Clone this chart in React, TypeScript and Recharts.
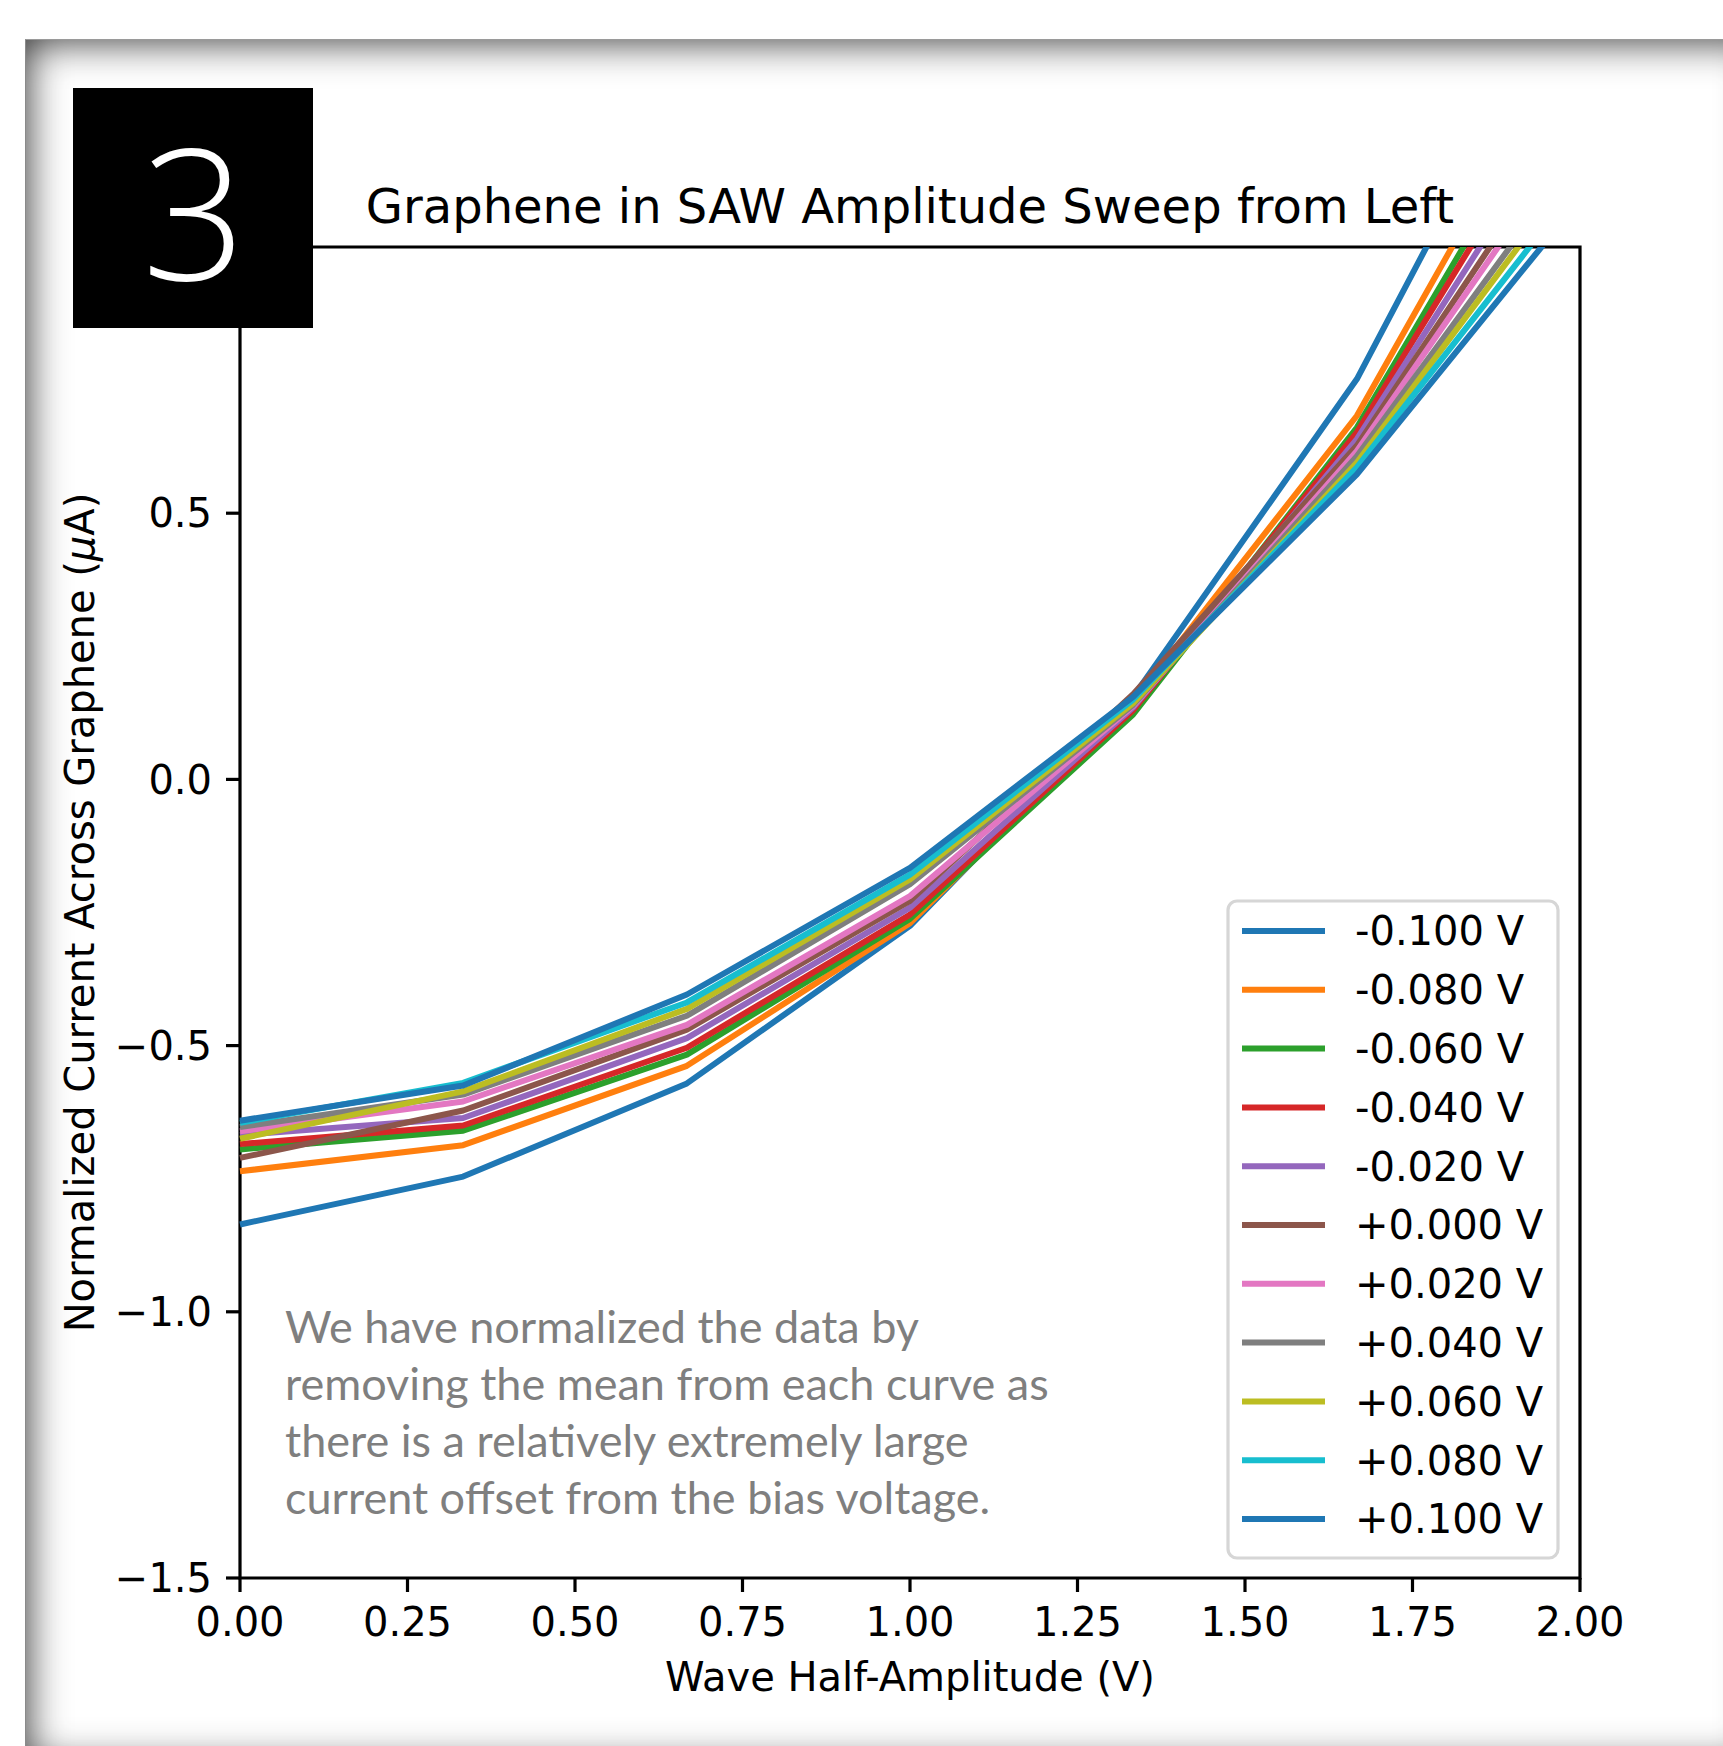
import React from 'react';
import { LineChart, Line, XAxis, YAxis, ReferenceArea } from 'recharts';

// Wave half-amplitude (V)
const xValues = [0, 0.333, 0.667, 1.0, 1.333, 1.667, 2.0];

// Bias voltage labels
const biasLabels = [
  '-0.100 V', '-0.080 V', '-0.060 V', '-0.040 V', '-0.020 V',
  '+0.000 V', '+0.020 V', '+0.040 V', '+0.060 V', '+0.080 V', '+0.100 V',
];

const seriesColors = [
  '#1f77b4', '#ff7f0e', '#2ca02c', '#d62728', '#9467bd',
  '#8c564b', '#e377c2', '#7f7f7f', '#bcbd22', '#17becf', '#1f77b4',
];

// Normalized current (µA) per bias voltage
const biasM100 = [-0.836, -0.746, -0.571, -0.275, 0.155, 0.752, 1.547];
const biasM080 = [-0.736, -0.687, -0.538, -0.270, 0.145, 0.683, 1.426];
const biasM060 = [-0.695, -0.660, -0.517, -0.262, 0.122, 0.661, 1.371];
const biasM040 = [-0.685, -0.650, -0.504, -0.254, 0.130, 0.652, 1.335];
const biasM020 = [-0.668, -0.636, -0.486, -0.241, 0.135, 0.639, 1.293];
const biasP000 = [-0.711, -0.622, -0.470, -0.228, 0.160, 0.627, 1.252];
const biasP020 = [-0.661, -0.605, -0.461, -0.219, 0.138, 0.617, 1.222];
const biasP040 = [-0.653, -0.592, -0.444, -0.197, 0.140, 0.607, 1.179];
const biasP060 = [-0.675, -0.586, -0.431, -0.188, 0.143, 0.595, 1.155];
const biasP080 = [-0.645, -0.570, -0.419, -0.179, 0.150, 0.586, 1.121];
const biasP100 = [-0.641, -0.575, -0.404, -0.166, 0.155, 0.573, 1.089];

const seriesValues = [
  biasM100, biasM080, biasM060, biasM040, biasM020,
  biasP000, biasP020, biasP040, biasP060, biasP080, biasP100,
];

const xTicks = [0, 0.25, 0.5, 0.75, 1.0, 1.25, 1.5, 1.75, 2.0];
const yTicks = [-1.5, -1.0, -0.5, 0.0, 0.5];

const titleText = 'Graphene in SAW Amplitude Sweep from Left';
const xLabelText = 'Wave Half-Amplitude (V)';
const panelNumber = '3';
const noteLines = [
  'We have normalized the data by',
  'removing the mean from each curve as',
  'there is a relatively extremely large',
  'current offset from the bias voltage.',
];

const data = xValues.map((x, i) => {
  const row: Record<string, number> = { x };
  seriesValues.forEach((s, k) => {
    row['s' + k] = s[i];
  });
  return row;
});

const MPL = 'DejaVu Sans';

export default function App() {
  return (
    <div
      style={{
        position: 'fixed',
        left: 0,
        top: 0,
        width: 1723,
        height: 1746,
        overflow: 'hidden',
        background: '#ffffff',
      }}
    >
      <div
        style={{
          position: 'absolute',
          left: 25,
          top: 39,
          width: 1735,
          height: 1726,
          background: '#ffffff',
          boxShadow: 'inset 0 0 40px rgba(0,0,0,0.85)',
          borderTop: '1px solid #9a9a9a',
          borderLeft: '1px solid #8a8a8a',
        }}
      />
      <div style={{ position: 'absolute', left: 0, top: 0 }}>
        <LineChart
          width={1723}
          height={1746}
          data={data}
          margin={{ top: 247, right: 143, bottom: 48, left: 40 }}
        >
          <XAxis
            dataKey="x"
            type="number"
            domain={[0, 2]}
            ticks={xTicks}
            tickFormatter={(v: number) => v.toFixed(2)}
            height={120}
            axisLine={false}
            tickLine={{ stroke: '#000', strokeWidth: 3.2 }}
            tickSize={14}
            tickMargin={16}
            tick={{ fill: '#000', fontSize: 40, fontFamily: MPL }}
            interval={0}
          />
          <YAxis
            type="number"
            domain={[-1.5, 1.0]}
            allowDataOverflow
            ticks={yTicks}
            tickFormatter={(v: number) => v.toFixed(1).replace('-', '\u2212')}
            width={200}
            axisLine={false}
            tickLine={{ stroke: '#000', strokeWidth: 3.2 }}
            tickSize={14}
            tickMargin={14}
            tick={{ fill: '#000', fontSize: 40, fontFamily: MPL }}
            interval={0}
          />
          {seriesValues.map((_, k) => (
            <Line
              key={k}
              type="linear"
              dataKey={'s' + k}
              name={biasLabels[k]}
              stroke={seriesColors[k]}
              strokeWidth={6}
              strokeLinejoin="round"
              dot={false}
              activeDot={false}
              isAnimationActive={false}
            />
          ))}
          <ReferenceArea
            x1={0}
            x2={2}
            y1={-1.5}
            y2={1.0}
            fill="none"
            fillOpacity={0}
            stroke="#000"
            strokeWidth={3.2}
            strokeOpacity={1}
          />
        </LineChart>
      </div>
      <svg
        width={1723}
        height={1746}
        style={{ position: 'absolute', left: 0, top: 0, pointerEvents: 'none' }}
      >
        {/* Title */}
        <text x={910} y={223} textAnchor="middle" fontFamily={MPL} fontSize={48} fill="#000">
          {titleText}
        </text>
        {/* X label */}
        <text x={910} y={1691} textAnchor="middle" fontFamily={MPL} fontSize={40} fill="#000">
          {xLabelText}
        </text>
        {/* Y label */}
        <text
          transform="translate(93.5, 912.5) rotate(-90)"
          textAnchor="middle"
          fontFamily={MPL}
          fontSize={40}
          fill="#000"
        >
          Normalized Current Across Graphene (<tspan fontStyle="italic">μ</tspan>A)
        </text>
        {/* Note */}
        {noteLines.map((t, i) => (
          <text
            key={i}
            x={285}
            y={1343 + i * 57}
            fontFamily="Lato"
            fontSize={45}
            fill="#7f7f7f"
          >
            {t}
          </text>
        ))}
        {/* Legend */}
        <rect
          x={1228}
          y={901}
          width={330}
          height={657}
          rx={9}
          ry={9}
          fill="#ffffff"
          fillOpacity={0.8}
          stroke="#d6d6d6"
          strokeWidth={3.2}
        />
        {biasLabels.map((lab, k) => (
          <g key={k}>
            <line
              x1={1242}
              x2={1325}
              y1={931 + k * 58.8}
              y2={931 + k * 58.8}
              stroke={seriesColors[k]}
              strokeWidth={6}
            />
            <text
              x={1355}
              y={931 + k * 58.8}
              dy="0.36em"
              fontFamily={MPL}
              fontSize={40}
              fill="#000"
            >
              {lab}
            </text>
          </g>
        ))}
        {/* Panel number */}
        <rect x={73} y={88} width={240} height={240} fill="#000" />
        <text
          x={194}
          y={280}
          textAnchor="middle"
          fontFamily="Open Sans"
          fontWeight={300}
          fontSize={182}
          fill="#fff"
        >
          {panelNumber}
        </text>
      </svg>
    </div>
  );
}
